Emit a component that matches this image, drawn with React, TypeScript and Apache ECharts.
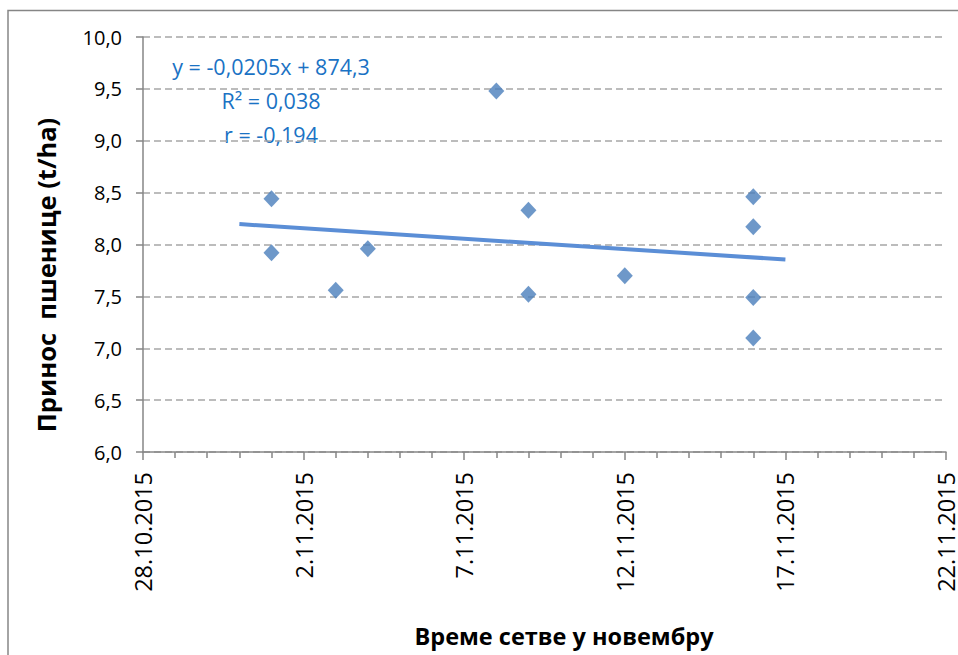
import React, { useEffect, useRef } from "react";
import * as echarts from "echarts";

// Sowing dates (November 2015) and wheat yield (t/ha)
const sowingDates: string[] = [
  "2015-11-01", "2015-11-01", "2015-11-03", "2015-11-04", "2015-11-08", "2015-11-09",
  "2015-11-09", "2015-11-12", "2015-11-16", "2015-11-16", "2015-11-16", "2015-11-16",
];
const yields: number[] = [8.44, 7.92, 7.56, 7.96, 9.48, 8.33, 7.52, 7.7, 8.46, 8.17, 7.49, 7.1];
const trendRange: string[] = ["2015-10-31", "2015-11-17"];
const xAxisRange: string[] = ["2015-10-28", "2015-11-22"];
const yAxisRange: number[] = [6, 10];
const equationLines: string[] = ["y = -0,0205x + 874,3", "R² = 0,038", "r = -0,194"];

const EXCEL_EPOCH = Date.UTC(1899, 11, 30);
const DAY = 86400000;
const toSerial = (s: string): number => {
  const [y, m, d] = s.split("-").map(Number);
  return Math.round((Date.UTC(y, m - 1, d) - EXCEL_EPOCH) / DAY);
};
const fmtSerial = (v: number): string => {
  const d = new Date(EXCEL_EPOCH + Math.round(v) * DAY);
  return `${d.getUTCDate()}.${d.getUTCMonth() + 1}.${d.getUTCFullYear()}`;
};

export default function App() {
  const ref = useRef<HTMLDivElement>(null);
  useEffect(() => {
    if (!ref.current) return;
    const chart = echarts.init(ref.current, undefined, { renderer: "svg" });

    const xs = sowingDates.map(toSerial);
    const n = xs.length;
    const mx = xs.reduce((a, b) => a + b, 0) / n;
    const my = yields.reduce((a, b) => a + b, 0) / n;
    let sxy = 0, sxx = 0;
    xs.forEach((x, i) => {
      sxy += (x - mx) * (yields[i] - my);
      sxx += (x - mx) * (x - mx);
    });
    const slope = sxy / sxx;
    const icpt = my - slope * mx;
    const trend = trendRange.map(toSerial).map((x) => [x, icpt + slope * x]);

    const grey = "#868686";
    const font = "'Open Sans', 'Noto Sans', sans-serif";

    chart.setOption({
      animation: false,
      grid: { left: 143, right: 3, top: 37, bottom: 203, containLabel: false },
      xAxis: {
        type: "value",
        min: toSerial(xAxisRange[0]),
        max: toSerial(xAxisRange[1]),
        interval: 5,
        axisLine: { show: true, lineStyle: { color: grey, width: 1.5 } },
        axisTick: { show: true, length: 8, lineStyle: { color: grey, width: 1.5 } },
        minorTick: { show: true, splitNumber: 5, length: 6, lineStyle: { color: grey, width: 1.5 } },
        splitLine: { show: false },
        axisLabel: {
          rotate: 90,
          margin: 20,
          color: "#000",
          fontFamily: font,
          fontSize: 23.5,
          formatter: (v: number) => fmtSerial(v),
          showMinLabel: true,
          showMaxLabel: true,
        },
      },
      yAxis: {
        type: "value",
        min: yAxisRange[0],
        max: yAxisRange[1],
        interval: 0.5,
        axisLine: { show: true, lineStyle: { color: grey, width: 1.5 } },
        axisTick: { show: true, length: 7, lineStyle: { color: grey, width: 1.5 } },
        splitLine: { show: true, lineStyle: { color: "#A6A6A6", width: 1.5, type: [7, 4] } },
        axisLabel: {
          margin: 21,
          color: "#000",
          fontFamily: font,
          fontSize: 20,
          formatter: (v: number) => v.toFixed(1).replace(".", ","),
        },
      },
      series: [
        {
          type: "line",
          data: trend,
          symbol: "none",
          lineStyle: { color: "#5B8ED6", width: 4 },
          z: 2,
        },
        {
          type: "scatter",
          data: xs.map((x, i) => [x, yields[i]]),
          symbol: "diamond",
          symbolSize: [16, 17],
          itemStyle: { color: "#4A7EBB" },
          z: 3,
        },
      ],
      graphic: [
        {
          type: "rect",
          silent: true,
          shape: { x: 8, y: 10.5, width: 980, height: 700 },
          style: { fill: "none", stroke: grey, lineWidth: 1.5 },
        },
        ...equationLines.map((t, i) => ({
          type: "text",
          x: 271,
          y: [66, 100, 134][i],
          style: {
            text: t,
            fill: "#1A72C4",
            font: `21.5px ${font}`,
            textAlign: "center",
            textVerticalAlign: "middle",
          },
        })),
        {
          type: "text",
          x: 46,
          y: 275,
          rotation: Math.PI / 2,
          style: {
            text: "Принос  пшенице (t/ha)",
            fill: "#000",
            font: `bold 25.5px ${font}`,
            textAlign: "center",
            textVerticalAlign: "middle",
          },
        },
        {
          type: "text",
          x: 564,
          y: 636,
          style: {
            text: "Време сетве у новембру",
            fill: "#000",
            font: `bold 23.5px ${font}`,
            textAlign: "center",
            textVerticalAlign: "middle",
          },
        },
      ],
    });
    return () => chart.dispose();
  }, []);
  return (
    <div
      ref={ref}
      style={{ position: "fixed", left: 0, top: 0, width: 958, height: 655, background: "#fff" }}
    />
  );
}
